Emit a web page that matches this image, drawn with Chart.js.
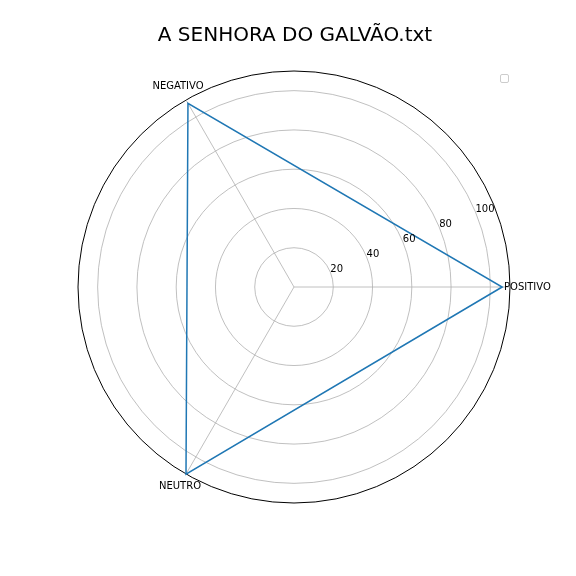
<!DOCTYPE html>
<html>
<head>
<meta charset="utf-8">
<script src="https://cdn.jsdelivr.net/npm/chart.js@4/dist/chart.umd.min.js"></script>
<style>
  html, body { margin: 0; padding: 0; background: #fff; }
  #wrap { width: 576px; height: 576px; }
</style>
</head>
<body>
<div id="wrap"><canvas id="chart" width="576" height="576"></canvas></div>
<script>
// ---------- DATA ----------
const chartTitle = 'A SENHORA DO GALVÃO.txt';
// clockwise order from the right-hand axis
const categories = ['POSITIVO', 'NEUTRO', 'NEGATIVO'];
const values = [106, 110, 108];
const tickValues = [20, 40, 60, 80, 100];
const rMax = 110;

const FONT = "'DejaVu Sans', sans-serif";

// ---------- LABELS PLUGIN ----------
const polarText = {
    id: 'polarText',
    afterDraw(chart) {
        const ctx = chart.ctx;
        const s = chart.scales.r;
        const R = s.getDistanceFromCenterForValue(rMax);
        ctx.save();
        ctx.fillStyle = '#000';

        // title
        ctx.font = '20px ' + FONT;
        ctx.textAlign = 'center';
        ctx.textBaseline = 'alphabetic';
        ctx.fillText(chartTitle, 295, 41);

        // radial tick labels at 22.5 degrees
        ctx.font = '10px ' + FONT;
        ctx.textAlign = 'left';
        const a = 22.5 * Math.PI / 180;
        tickValues.forEach(v => {
            const d = s.getDistanceFromCenterForValue(v);
            ctx.fillText(String(v), s.xCenter + d * Math.cos(a), s.yCenter - d * Math.sin(a));
        });

        // category labels
        const offsets = [[-6, 0, 'left'], [-6, 12, 'center'], [-8, -14, 'center']];
        ctx.textBaseline = 'middle';
        categories.forEach((c, i) => {
            const p = s.getPointPosition(i, R);
            ctx.textAlign = offsets[i][2];
            ctx.fillText(c, p.x + offsets[i][0], p.y + offsets[i][1]);
        });

        // empty legend frame
        ctx.strokeStyle = '#cccccc';
        ctx.lineWidth = 1;
        ctx.beginPath();
        ctx.roundRect(500.5, 74.5, 8, 8, 1.5);
        ctx.stroke();
        ctx.restore();
    }
};

// ---------- CHART ----------
new Chart(document.getElementById('chart'), {
    type: 'radar',
    data: {
        labels: categories,
        datasets: [{
            data: values,
            borderColor: '#1f77b4',
            borderWidth: 1.5,
            fill: false,
            pointRadius: 0,
            tension: 0
        }]
    },
    options: {
        responsive: false,
        animation: false,
        layout: { padding: { left: 78, right: 65, top: 70, bottom: 72 } },
        plugins: { legend: { display: false }, title: { display: false }, tooltip: { enabled: false } },
        scales: {
            r: {
                min: 0,
                max: rMax,
                startAngle: 90,
                ticks: { display: false, stepSize: 20 },
                pointLabels: { display: false },
                grid: {
                    circular: true,
                    color: c => (c.tick && c.tick.value === rMax ? '#000000' : '#b0b0b0'),
                    lineWidth: c => (c.tick && c.tick.value === rMax ? 1 : 0.8)
                },
                angleLines: { color: '#b0b0b0', lineWidth: 0.8 }
            }
        }
    },
    plugins: [polarText]
});
</script>
</body>
</html>
